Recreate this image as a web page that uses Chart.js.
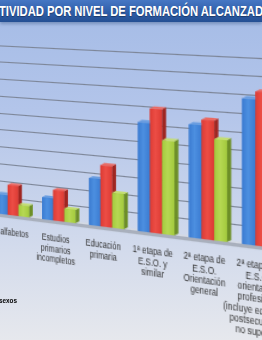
<!DOCTYPE html>
<html lang="es">
<head>
<meta charset="utf-8">
<title>Tasa de actividad por nivel de formación alcanzado</title>
<script src="https://cdn.jsdelivr.net/npm/chart.js@4/dist/chart.umd.min.js"></script>
<style>
  html, body { margin: 0; padding: 0; }
  body {
    width: 262px; height: 340px; overflow: hidden; position: relative;
    background: linear-gradient(#a4bbe6 0px, #b3c5ea 110px, #d3dbec 250px, #e6e8ed 340px);
    font-family: 'Liberation Sans', Arial, sans-serif;
  }
  #titleBar {
    position: absolute; left: 0; top: 0; width: 262px; height: 22px; z-index: 2; overflow: hidden;
    background: linear-gradient(#4677c4, #2f5ea9 55%, #244f93);
    box-shadow: 0 2px 3px rgba(30, 60, 110, .35);
  }
  #titleText {
    position: absolute; left: 0; top: 0; height: 22px; line-height: 22px;
    white-space: nowrap; color: #fff; font-weight: bold; font-size: 14px;
    transform-origin: 0 0; text-shadow: 0 1px 1px rgba(0, 0, 0, .35);
  }
  #chart { position: absolute; left: 0; top: 0; transform-origin: 0 0; }
  #legend { position: absolute; right: 245px; top: 295px; z-index: 1; transform: scaleX(.8); transform-origin: 100% 0; }
  #legend div { white-space: nowrap; height: 11px; line-height: 11px; font-size: 8px; font-weight: bold; color: #000; }
  #legend i { display: inline-block; width: 6px; height: 6px; margin-right: 3px; }
  .medida { position: absolute; visibility: hidden; white-space: nowrap; font-weight: bold; font-size: 14px; }
</style>
</head>
<body>
<div id="titleBar"><div id="titleText">TASA DE ACTIVIDAD POR NIVEL DE FORMACIÓN ALCANZADO</div></div>
<canvas id="chart" width="300" height="250"></canvas>
<div id="legend"></div>
<script>
// Datos (tasa de actividad, %)
const categorias = [
    'Analfabetos',
    ['Estudios', 'primarios', 'incompletos'],
    ['Educación', 'primaria'],
    ['1ª etapa de', 'E.S.O. y', 'similar'],
    ['2ª etapa de', 'E.S.O.', 'Orientación', 'general'],
    ['2ª etapa de', 'E.S.O.', 'orientación', 'profesional', '(incluye educación', 'postsecundaria', 'no superior)']
];
const series = ['Ambos sexos', 'Varones', 'Mujeres'];
const ambosSexos = [12, 13, 27, 61, 62, 78];
const varones = [18, 18, 35, 69, 65, 82];
const mujeres = [7, 8, 20, 52, 55, 73];
const escalaY = [0, 100, 10]; // min, max, paso

// Estilo
const frente = ['#3b7bd1', '#dc3b34', '#a3ca3d'];
const frenteClaro = ['#4c8fe0', '#ec4d45', '#b6d853'];
const lados = ['#28599c', '#9f2621', '#6d8f27'];
const tapas = ['#6a9de0', '#ea6a63', '#c4de72'];
const FUENTE = "'Liberation Sans', Arial, sans-serif";
const D = 3.5; // profundidad de las caras laterales

// Barras con cara lateral y tapa, suelo y etiquetas estrechas
const bars3d = {
    id: 'bars3d',
    beforeDatasetsDraw(chart) {
        const { ctx, chartArea: a } = chart;
        const base = chart.scales.y.getPixelForValue(0);
        ctx.save();
        ctx.fillStyle = '#d4d9e3';
        ctx.beginPath();
        ctx.moveTo(a.left, base);
        ctx.lineTo(a.right, base);
        ctx.lineTo(a.right + D, base - D * 0.6);
        ctx.lineTo(a.left + D, base - D * 0.6);
        ctx.fill();
        ctx.fillStyle = '#a9b0bd';
        ctx.fillRect(a.left, base, a.right - a.left, 2.5);
        ctx.restore();
    },
    afterDatasetsDraw(chart) {
        const ctx = chart.ctx;
        ctx.save();
        categorias.forEach((cat, i) => {
            series.forEach((s, j) => {
                const bar = chart.getDatasetMeta(j).data[i];
                const { x, y, base, width } = bar.getProps(['x', 'y', 'base', 'width'], true);
                const l = x - width / 2, r = x + width / 2;
                const grad = ctx.createLinearGradient(l, 0, r, 0);
                grad.addColorStop(0, frente[j]);
                grad.addColorStop(0.45, frenteClaro[j]);
                grad.addColorStop(1, frente[j]);
                ctx.fillStyle = grad;
                ctx.fillRect(l, y, width, base - y);
                ctx.fillStyle = lados[j];
                ctx.beginPath();
                ctx.moveTo(r, y);
                ctx.lineTo(r + D, y - D * 0.6);
                ctx.lineTo(r + D, base - D * 0.6);
                ctx.lineTo(r, base);
                ctx.fill();
                ctx.fillStyle = tapas[j];
                ctx.beginPath();
                ctx.moveTo(l, y);
                ctx.lineTo(l + D, y - D * 0.6);
                ctx.lineTo(r + D, y - D * 0.6);
                ctx.lineTo(r, y);
                ctx.fill();
            });
        });
        ctx.restore();
    },
    afterDraw(chart) {
        const ctx = chart.ctx, sx = chart.scales.x;
        const base = chart.scales.y.getPixelForValue(0);
        ctx.save();
        ctx.fillStyle = '#333';
        ctx.font = `8.5px ${FUENTE}`;
        ctx.textAlign = 'center';
        ctx.textBaseline = 'middle';
        categorias.forEach((cat, i) => {
            const x = sx.getPixelForValue(i) - 3;
            [].concat(cat).forEach((t, k) => {
                ctx.save();
                ctx.translate(x, base + 16.5 + k * 9.3);
                ctx.scale(0.82, 1);
                ctx.fillText(t, 0, 0);
                ctx.restore();
            });
        });
        ctx.restore();
    }
};

const valores = [ambosSexos, varones, mujeres];
const chart = new Chart(document.getElementById('chart'), {
    type: 'bar',
    data: {
        labels: categorias,
        datasets: series.map((nombre, i) => ({
            label: nombre,
            data: valores[i],
            backgroundColor: frente[i],
            categoryPercentage: 0.72,
            barPercentage: 1
        }))
    },
    options: {
        responsive: false,
        animation: false,
        layout: { padding: { top: 4, left: 0, right: 0, bottom: 0 } },
        plugins: { legend: { display: false }, tooltip: { enabled: false } },
        scales: {
            x: {
                grid: { display: false, drawTicks: false },
                border: { display: false },
                ticks: {
                    color: 'transparent', // se dibujan en bars3d
                    font: { family: FUENTE, size: 8, lineHeight: 1.15 },
                    maxRotation: 0,
                    autoSkip: false,
                    padding: 12
                }
            },
            y: {
                min: escalaY[0],
                max: escalaY[1],
                ticks: { display: false, stepSize: escalaY[2] },
                grid: { color: '#7c8597', lineWidth: 1, drawTicks: false },
                border: { display: false }
            }
        }
    },
    plugins: [bars3d]
});

// Perspectiva: lleva el plano del gráfico al cuadrilátero inclinado del original
function homografia(src, dst) {
    const A = [], B = [];
    for (let k = 0; k < 4; k++) {
        const [u, v] = src[k], [x, y] = dst[k];
        A.push([u, v, 1, 0, 0, 0, -u * x, -v * x]); B.push(x);
        A.push([0, 0, 0, u, v, 1, -u * y, -v * y]); B.push(y);
    }
    for (let c = 0; c < 8; c++) {
        let p = c;
        for (let r = c + 1; r < 8; r++) if (Math.abs(A[r][c]) > Math.abs(A[p][c])) p = r;
        [A[c], A[p]] = [A[p], A[c]];
        [B[c], B[p]] = [B[p], B[c]];
        for (let r = 0; r < 8; r++) {
            if (r === c) continue;
            const f = A[r][c] / A[c][c];
            for (let k = c; k < 8; k++) A[r][k] -= f * A[c][k];
            B[r] -= f * B[c];
        }
    }
    return B.map((b, k) => b / A[k][k]);
}

const sx = chart.scales.x, sy = chart.scales.y;
const u0 = sx.getPixelForValue(0), u1 = sx.getPixelForValue(categorias.length - 1);
const vb = sy.getPixelForValue(escalaY[0]), vt = sy.getPixelForValue(escalaY[1]);
const [a, b, c, d, e, f, g, h] = homografia(
    [[u0, vb], [u1, vb], [u0, vt], [u1, vt]],
    [[13, 216], [262, 247], [13, 46], [262, 58]]
);
document.getElementById('chart').style.transform =
    `matrix3d(${a},${d},0,${g},${b},${e},0,${h},0,0,1,0,${c},${f},0,1)`;

// Título recortado: "TIVIDAD ... ALCANZAD" ocupa todo el ancho visible
function ancho(texto) {
    const s = document.createElement('span');
    s.className = 'medida';
    s.textContent = texto;
    document.body.appendChild(s);
    const w = s.getBoundingClientRect().width;
    s.remove();
    return w;
}
const wIni = ancho('TASA DE AC');
const wFin = ancho('TASA DE ACTIVIDAD POR NIVEL DE FORMACIÓN ALCANZAD');
const k = 264 / (wFin - wIni);
const titulo = document.getElementById('titleText');
titulo.style.transform = `translateX(${-wIni * k - 1}px) scaleX(${k})`;

// Leyenda vertical (queda casi toda fuera del recorte)
document.getElementById('legend').innerHTML = series
    .map((nombre, i) => `<div><i style="background:${frente[i]}"></i>${nombre}</div>`)
    .join('');
</script>
</body>
</html>
